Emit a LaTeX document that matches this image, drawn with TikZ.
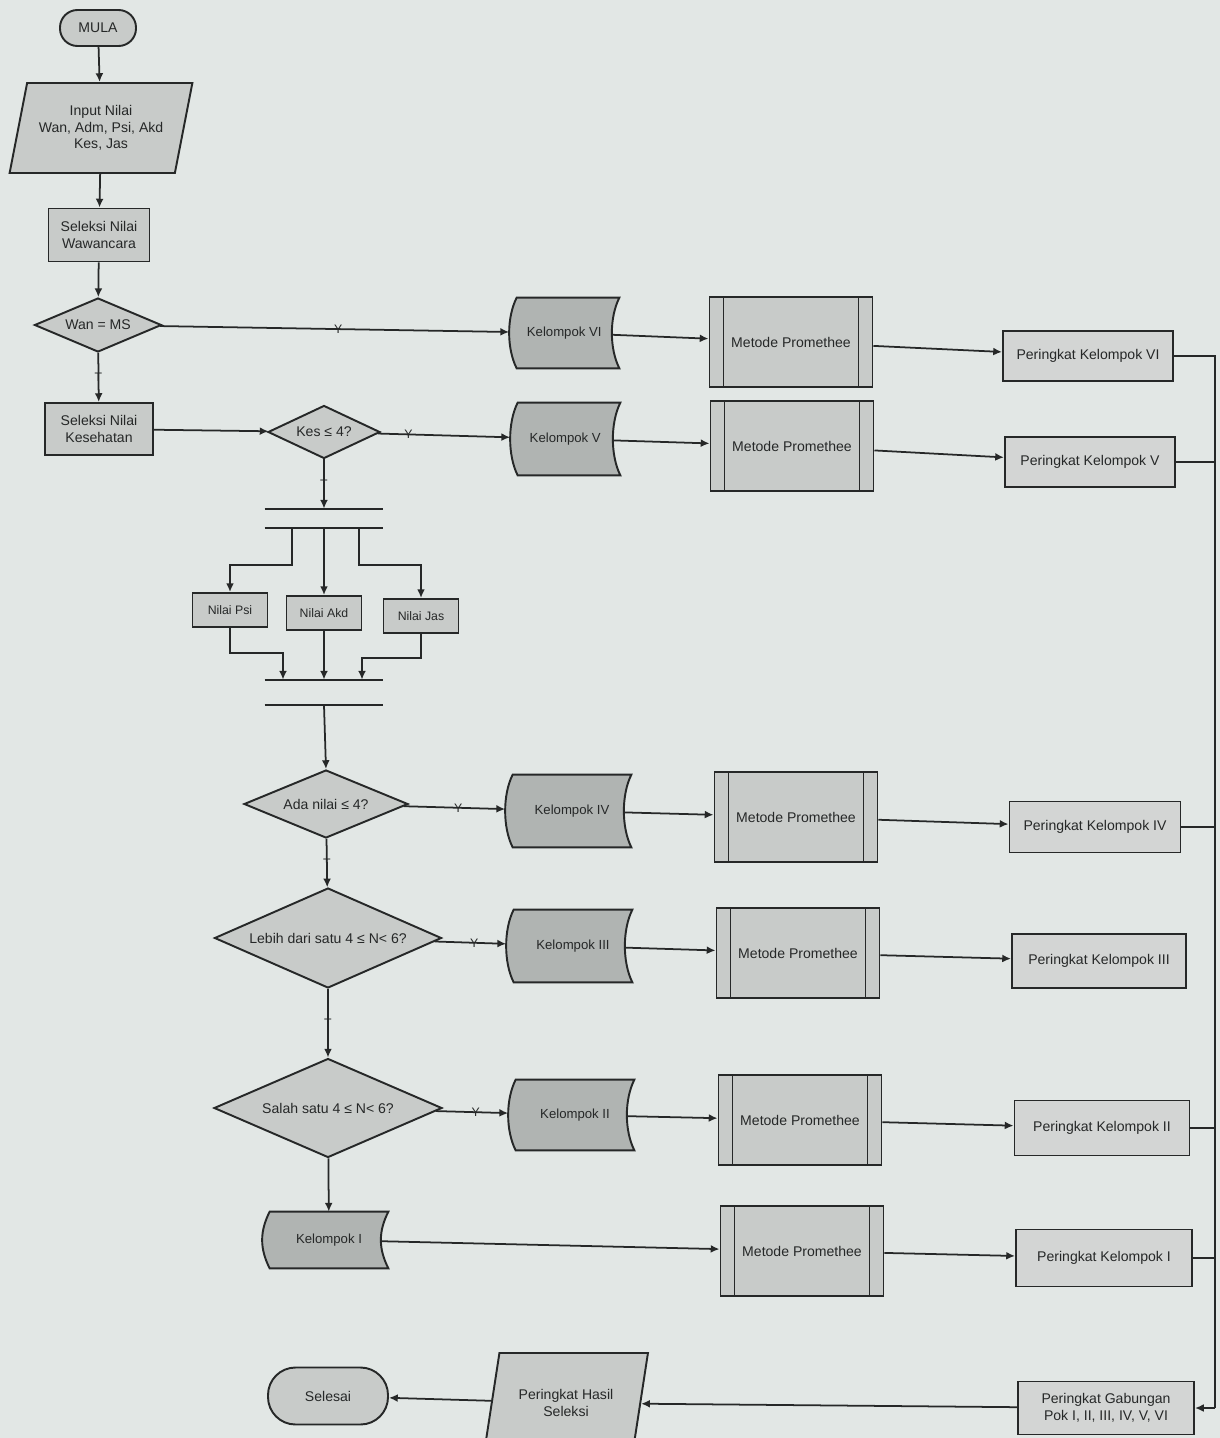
\documentclass[tikz,border=0pt]{standalone}
\usepackage{fontspec}
\setmainfont{Liberation Sans}
\usepackage{tikz}
\usetikzlibrary{arrows.meta, positioning, shapes.geometric, calc, backgrounds}
\definecolor{pagebg}{RGB}{226,231,229}
\definecolor{boxgray}{RGB}{200,203,201}
\definecolor{kelgray}{RGB}{176,180,178}
\definecolor{rankgray}{RGB}{211,213,212}
\definecolor{inkgray}{RGB}{38,40,40}

\begin{document}
\begin{tikzpicture}[
  x=0.2mm, y=-0.2mm,
  color=inkgray,
  font=\fontsize{8}{9.5}\selectfont,
  box/.style = {
    rectangle, draw=inkgray, line width=1.1pt, fill=boxgray,
    align=center, inner sep=1pt
  },
  term/.style = {box, rounded corners=3.5mm},
  io/.style = {
    trapezium, trapezium left angle=72, trapezium right angle=108,
    trapezium stretches=true, draw=inkgray, line width=1.1pt,
    fill=boxgray, align=center, inner sep=0pt
  },
  cond/.style = {
    diamond, aspect=2.3, inner sep=0pt, draw=inkgray,
    line width=1.1pt, fill=boxgray, align=center
  },
  kel/.style = {rectangle, inner sep=0pt, align=center, font=\fontsize{7.5}{9}\selectfont},
  kelline/.style = {draw=inkgray, line width=1.1pt, fill=kelgray},
  proc/.style = {box, path picture={
    \draw[inkgray, line width=0.9pt]
      ([xshift=2.8mm]path picture bounding box.north west) -- ([xshift=2.8mm]path picture bounding box.south west)
      ([xshift=-2.8mm]path picture bounding box.north east) -- ([xshift=-2.8mm]path picture bounding box.south east);}},
  rank/.style = {box, fill=rankgray},
  bar/.style = {rectangle, inner sep=0pt, minimum width=23.6mm},
  conn/.style = {draw=inkgray, line width=1pt},
  arr/.style = {conn, -{Latex[length=5pt,width=4.5pt]}},
  yt/.style = {font=\fontsize{7}{8}\selectfont, inner sep=0.5pt},
  tokel/.style = {shorten >=1.5mm},
  fromkel/.style = {shorten <=-1.5mm}
]
\useasboundingbox (0,0) rectangle (1220,1438);

\node[term, minimum width=15.2mm, minimum height=7.2mm] (mula) at (98,28) {MULA};
\node[io, minimum width=36.6mm, minimum height=18mm] (inp) at (101,128) {Input Nilai\\Wan, Adm, Psi, Akd\\Kes, Jas};
\node[box, minimum width=20.2mm, minimum height=10.6mm] (wwc) at (99,235) {Seleksi Nilai\\Wawancara};
\node[cond, minimum width=25.4mm, minimum height=10.8mm] (wan) at (98,325) {Wan = MS};
\node[box, minimum width=21.6mm, minimum height=10.4mm] (kes) at (99,429) {Seleksi Nilai\\Kesehatan};
\node[cond, minimum width=22.4mm, minimum height=10.6mm] (ckes) at (324,432) {Kes ≤ 4?};

\node[bar, minimum height=3.8mm] (fork) at (324,518.5) {};
\node[box, minimum width=15mm, minimum height=6.8mm, font=\fontsize{7}{8}\selectfont] (psi) at (230,610) {Nilai Psi};
\node[box, minimum width=15mm, minimum height=6.8mm, font=\fontsize{7}{8}\selectfont] (akd) at (324,613) {Nilai Akd};
\node[box, minimum width=15mm, minimum height=6.8mm, font=\fontsize{7}{8}\selectfont] (jas) at (421,616) {Nilai Jas};
\node[bar, minimum height=5mm] (join) at (324,692.5) {};

\node[cond, minimum width=32.8mm, minimum height=13.6mm] (ada) at (326,804) {Ada nilai ≤ 4?};
\node[cond, minimum width=45.4mm, minimum height=20mm] (lebih) at (328,938) {Lebih dari satu 4 ≤ N< 6?};
\node[cond, minimum width=45.6mm, minimum height=19.8mm] (salah) at (328,1108) {Salah satu 4 ≤ N< 6?};

\node[kel, minimum width=20.4mm, minimum height=14mm] (k6) at (568,333) {Kelompok VI\hspace*{1.5mm}};
\node[kel, minimum width=20.4mm, minimum height=14.4mm] (k5) at (569,439) {Kelompok V\hspace*{1.5mm}};
\node[kel, minimum width=23.6mm, minimum height=14.4mm] (k4) at (572,811) {Kelompok IV};
\node[kel, minimum width=23.6mm, minimum height=14.4mm] (k3) at (573,946) {Kelompok III};
\node[kel, minimum width=23.6mm, minimum height=14mm] (k2) at (575,1115) {Kelompok II};
\node[kel, minimum width=23.6mm, minimum height=11.2mm] (k1) at (329,1240) {Kelompok I};

\node[proc, minimum width=32.6mm, minimum height=18mm] (m6) at (791,342) {Metode Promethee};
\node[proc, minimum width=32.6mm, minimum height=18mm] (m5) at (792,446) {Metode Promethee};
\node[proc, minimum width=32.6mm, minimum height=18mm] (m4) at (796,817) {Metode Promethee};
\node[proc, minimum width=32.6mm, minimum height=18mm] (m3) at (798,953) {Metode Promethee};
\node[proc, minimum width=32.6mm, minimum height=18mm] (m2) at (800,1120) {Metode Promethee};
\node[proc, minimum width=32.6mm, minimum height=18mm] (m1) at (802,1251) {Metode Promethee};

\node[rank, minimum width=34mm, minimum height=10mm] (p6) at (1088,356) {Peringkat Kelompok VI};
\node[rank, minimum width=34mm, minimum height=10mm] (p5) at (1090,462) {Peringkat Kelompok V};
\node[rank, minimum width=34.2mm, minimum height=10.2mm] (p4) at (1095,827) {Peringkat Kelompok IV};
\node[rank, minimum width=34.8mm, minimum height=10.8mm] (p3) at (1099,961) {Peringkat Kelompok III};
\node[rank, minimum width=35mm, minimum height=11mm] (p2) at (1102,1128) {Peringkat Kelompok II};
\node[rank, minimum width=35.2mm, minimum height=11.4mm] (p1) at (1104,1258) {Peringkat Kelompok I};

\node[rank, minimum width=35.2mm, minimum height=10.6mm] (gab) at (1106,1408) {Peringkat Gabungan\\Pok I, II, III, IV, V, VI};
\node[io, trapezium left angle=68, trapezium right angle=112, minimum width=32.8mm, minimum height=20mm] (hasil) at (566,1403) {Peringkat Hasil\\Seleksi};
\node[term, rounded corners=5.5mm, minimum width=24mm, minimum height=11.4mm] (end) at (328,1396) {Selesai};

\coordinate (busbot) at (1215,1408);

\draw[conn] (fork.north west) -- (fork.north east) (fork.south west) -- (fork.south east);
\draw[conn] (join.north west) -- (join.north east) (join.south west) -- (join.south east);

\draw[arr] (mula) -- (inp);
\draw[arr] (inp) -- (wwc);
\draw[arr] (wwc) -- (wan);
\draw[arr] (wan) -- node[yt]{T} (kes);
\draw[arr, tokel] (wan) -- node[yt]{Y} (k6);
\draw[arr] (kes) -- (ckes);
\draw[arr, tokel] (ckes) -- node[yt, pos=0.22]{Y} (k5);
\draw[arr] (ckes) -- node[yt]{T} (fork.north);

\draw[arr] ($(fork.south)+(-32,0)$) -- ++(0,37) -| (psi.north);
\draw[arr] (fork.south) -- (akd.north);
\draw[arr] ($(fork.south)+(35,0)$) -- ++(0,37) -| (jas.north);
\draw[arr] (psi.south) -- ++(0,25) -| ($(join.north)+(-41,0)$);
\draw[arr] (akd.south) -- (join.north);
\draw[arr] (jas.south) -- ++(0,24) -| ($(join.north)+(38,0)$);
\draw[arr] (join.south) -- (ada.north);

\draw[arr, tokel] (ada) -- node[yt]{Y} (k4);
\draw[arr] (ada) -- node[yt]{T} (lebih);
\draw[arr, tokel] (lebih) -- node[yt]{Y} (k3);
\draw[arr] (lebih) -- node[yt]{T} (salah);
\draw[arr, tokel] (salah) -- node[yt]{Y} (k2);
\draw[arr] (salah) -- (k1);

\draw[arr, fromkel] (k6) -- (m6);
\draw[arr, fromkel] (k5) -- (m5);
\draw[arr, fromkel] (k4) -- (m4);
\draw[arr, fromkel] (k3) -- (m3);
\draw[arr, fromkel] (k2) -- (m2);
\draw[arr, fromkel] (k1) -- (m1);

\draw[arr] (m6) -- (p6);
\draw[arr] (m5) -- (p5);
\draw[arr] (m4) -- (p4);
\draw[arr] (m3) -- (p3);
\draw[arr] (m2) -- (p2);
\draw[arr] (m1) -- (p1);

\draw[conn] (p6.east) -| (busbot);
\foreach \p in {p5,p4,p2,p1}
  \draw[conn] (\p.east) -- (\p.east -| busbot);
\draw[arr] (busbot) -- (gab.east);
\draw[arr] (gab) -- (hasil);
\draw[arr] (hasil) -- (end);

\begin{scope}[on background layer]
  \fill[pagebg] (0,0) rectangle (1220,1438);
  \foreach \k in {k6,k5,k4,k3,k2,k1}
    \draw[kelline] (\k.north west) .. controls +(-10,20) and +(-10,-20) .. (\k.south west)
      -- (\k.south east) .. controls +(-10,-20) and +(-10,20) .. (\k.north east) -- cycle;
\end{scope}
\end{tikzpicture}
\end{document}
